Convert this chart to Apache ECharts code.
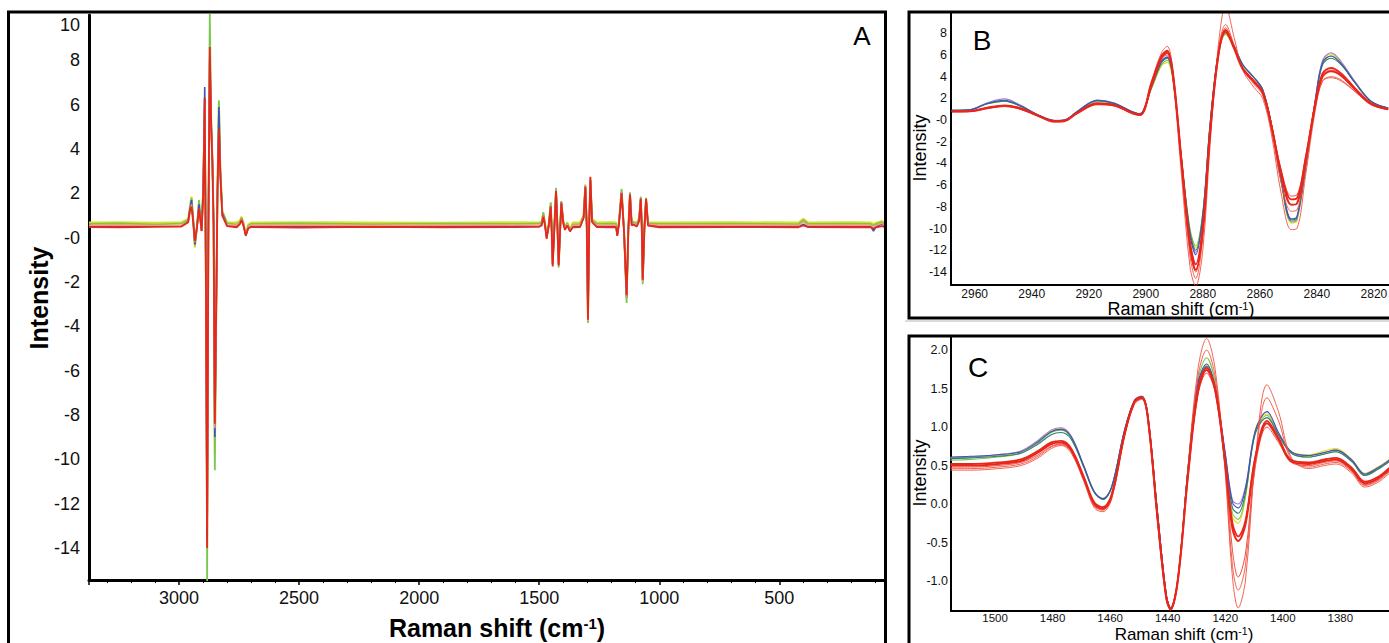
<!DOCTYPE html>
<html><head><meta charset="utf-8">
<script src="https://cdn.jsdelivr.net/npm/echarts@6/dist/echarts.min.js"></script>
<style>html,body{margin:0;padding:0;background:#fff}#c{width:1389px;height:643px}</style>
</head><body><div id="c"></div>
<script>
// ---------- Panel A: full spectrum (Raman shift, cm-1) ----------
const xA = [
3375, 3250, 3100, 2990, 2962, 2955, 2948, 2941, 2934, 2925,
2917, 2911, 2906, 2899, 2893, 2888, 2883, 2878, 2872, 2866,
2861, 2856, 2851, 2845, 2840, 2834, 2828, 2820, 2800, 2760,
2746, 2740, 2732, 2722, 2712, 2700, 2500, 2200, 1900, 1600,
1500, 1490, 1483, 1476, 1469, 1460, 1452, 1448, 1444, 1437,
1430, 1424, 1419, 1413, 1408, 1400, 1393, 1383, 1372, 1360,
1330, 1315, 1308, 1302, 1297, 1292, 1287, 1280, 1260, 1200,
1180, 1175, 1168, 1157, 1147, 1136, 1129, 1122, 1115, 1108,
1094, 1084, 1077, 1073, 1069, 1062, 1055, 1047, 1000, 700,
420, 400, 380, 200, 120, 108, 96, 73, 60];
const aYellow = [
0.68, 0.70, 0.67, 0.70, 0.85, 1.40, 1.85, 0.80, -0.45, 0.55,
1.60, 0.85, 0.35, 2.20, 5.80, -2.20, -12.5, 0.10, 8.00, 5.00,
3.50, 0.60, -9.80, -3.00, 2.10, 6.10, 3.00, 1.20, 0.70, 0.68,
0.78, 0.95, 0.70, 0.15, 0.60, 0.68, 0.70, 0.69, 0.67, 0.70,
0.69, 0.72, 1.10, 0.70, 0.10, 0.68, 1.55, 0.40, -1.15, 0.55,
2.15, 0.55, -1.20, 0.40, 1.60, 0.78, 0.50, 0.70, 0.40, 0.68,
0.70, 1.00, 2.35, 0.60, -3.60, 0.60, 2.60, 0.85, 0.68, 0.70,
0.68, 0.20, 0.75, 2.10, 0.40, -2.70, 0.40, 2.00, 0.70, 0.72,
0.68, 0.90, 1.80, 0.60, -1.95, 0.50, 1.75, 0.70, 0.68, 0.70,
0.68, 0.85, 0.68, 0.70, 0.69, 0.62, 0.68, 0.75, 0.68];
const aGreen = [
0.62, 0.64, 0.60, 0.63, 0.80, 1.30, 1.80, 0.85, -0.35, 0.55,
1.70, 0.85, 0.35, 2.30, 6.30, -2.50, -15.5, 0.20, 10.1, 5.20,
3.60, 0.60, -10.5, -3.20, 2.20, 6.20, 3.10, 1.20, 0.65, 0.60,
0.72, 0.90, 0.66, 0.12, 0.55, 0.62, 0.64, 0.61, 0.63, 0.62,
0.63, 0.68, 1.15, 0.65, 0.05, 0.65, 1.60, 0.35, -1.20, 0.50,
2.25, 0.50, -1.35, 0.35, 1.65, 0.75, 0.45, 0.65, 0.35, 0.60,
0.62, 1.00, 2.40, 0.55, -3.85, 0.55, 2.60, 0.80, 0.62, 0.63,
0.62, 0.15, 0.70, 2.20, 0.35, -2.95, 0.35, 2.05, 0.65, 0.70,
0.62, 0.85, 1.85, 0.55, -2.10, 0.45, 1.80, 0.65, 0.62, 0.63,
0.61, 0.80, 0.62, 0.63, 0.62, 0.55, 0.62, 0.70, 0.62];
const aBlue = [
0.52, 0.50, 0.53, 0.52, 0.72, 1.25, 1.70, 0.75, -0.30, 0.50,
1.50, 0.80, 0.30, 2.40, 6.80, -2.00, -13.6, 0.10, 8.20, 5.00,
3.40, 0.50, -9.00, -3.00, 2.00, 5.90, 3.00, 1.10, 0.55, 0.50,
0.65, 0.85, 0.58, 0.08, 0.45, 0.52, 0.50, 0.53, 0.51, 0.52,
0.53, 0.58, 1.00, 0.58, 0.00, 0.58, 1.45, 0.32, -1.20, 0.45,
2.15, 0.45, -1.20, 0.32, 1.60, 0.70, 0.40, 0.58, 0.30, 0.52,
0.50, 0.90, 2.30, 0.50, -3.60, 0.50, 2.60, 0.75, 0.52, 0.50,
0.52, 0.10, 0.62, 2.05, 0.32, -2.70, 0.32, 2.00, 0.60, 0.62,
0.52, 0.78, 1.78, 0.50, -1.95, 0.42, 1.72, 0.58, 0.52, 0.50,
0.52, 0.60, 0.52, 0.50, 0.52, 0.30, 0.52, 0.62, 0.52];
const aSalmon = [
0.56, 0.57, 0.55, 0.56, 0.70, 1.10, 1.50, 0.70, -0.20, 0.50,
1.30, 0.80, 0.30, 2.00, 6.00, -2.00, -13.0, 0.00, 8.40, 5.00,
3.30, 0.50, -8.60, -3.00, 2.00, 4.80, 2.80, 1.00, 0.57, 0.56,
0.68, 0.85, 0.60, 0.12, 0.50, 0.56, 0.57, 0.55, 0.56, 0.57,
0.56, 0.60, 1.00, 0.60, 0.02, 0.60, 1.45, 0.33, -1.25, 0.45,
2.15, 0.45, -1.25, 0.33, 1.58, 0.70, 0.42, 0.60, 0.32, 0.56,
0.56, 0.95, 2.35, 0.52, -3.75, 0.52, 2.70, 0.75, 0.56, 0.57,
0.56, 0.12, 0.65, 2.05, 0.33, -2.70, 0.33, 2.00, 0.60, 0.65,
0.56, 0.80, 1.78, 0.52, -2.00, 0.42, 1.75, 0.60, 0.56, 0.57,
0.56, 0.70, 0.56, 0.57, 0.56, 0.45, 0.56, 0.65, 0.56];
const aRed = [
0.48, 0.47, 0.49, 0.50, 0.70, 1.20, 1.40, 0.70, -0.15, 0.50,
1.30, 0.80, 0.30, 2.00, 6.30, -2.00, -14.0, 0.00, 8.60, 5.00,
3.30, 0.50, -8.40, -3.00, 2.00, 4.90, 2.80, 1.00, 0.52, 0.47,
0.62, 0.80, 0.55, 0.10, 0.42, 0.48, 0.46, 0.49, 0.47, 0.48,
0.49, 0.55, 0.95, 0.55, -0.05, 0.55, 1.40, 0.30, -1.30, 0.40,
2.10, 0.40, -1.25, 0.30, 1.55, 0.65, 0.35, 0.55, 0.28, 0.47,
0.48, 0.90, 2.30, 0.50, -3.70, 0.50, 2.75, 0.70, 0.48, 0.47,
0.48, 0.08, 0.60, 2.00, 0.30, -2.60, 0.30, 1.95, 0.55, 0.60,
0.50, 0.75, 1.75, 0.50, -1.90, 0.40, 1.75, 0.55, 0.47, 0.48,
0.47, 0.55, 0.48, 0.47, 0.48, 0.40, 0.47, 0.52, 0.47];

// ---------- Panel B: C-H stretching region ----------
const xB = [
2968, 2961.5, 2955.5, 2949.5, 2944, 2938, 2932, 2928.5, 2924, 2917,
2911, 2905, 2902, 2898, 2894.5, 2892.5, 2890.5, 2887.5, 2884.5, 2882.5,
2880, 2877.5, 2874.5, 2872, 2869, 2866, 2862, 2859, 2856, 2852.5,
2849, 2847, 2844, 2840.5, 2838, 2835, 2831.5, 2826.5, 2821, 2815];
const bBlue = [
0.89, 0.95, 1.55, 1.82, 1.32, 0.50, -0.05, 0.00, 0.80, 1.82,
1.55, 0.80, 0.58, 3.10, 5.40, 5.80, 4.00, -3.60, -10.6, -12.4,
-8.90, -0.60, 6.40, 8.20, 6.80, 5.10, 3.90, 2.80, -0.30, -5.50,
-9.10, -8.90, -4.30, 1.90, 5.30, 5.90, 5.20, 3.40, 1.72, 1.10];
const bTeal = [
0.89, 0.95, 1.50, 1.75, 1.30, 0.50, -0.05, 0.00, 0.78, 1.78,
1.52, 0.80, 0.58, 3.00, 5.30, 5.70, 3.90, -3.50, -10.3, -12.0,
-8.70, -0.60, 6.30, 8.10, 6.80, 5.10, 3.90, 2.80, -0.30, -5.60,
-9.20, -9.00, -4.40, 1.80, 5.10, 5.70, 5.10, 3.40, 1.72, 1.10];
const bGreen = [
0.88, 0.95, 1.50, 1.75, 1.28, 0.45, -0.10, -0.05, 0.75, 1.75,
1.50, 0.78, 0.56, 2.90, 5.10, 5.50, 3.80, -3.40, -10.0, -11.6,
-8.50, -0.50, 6.20, 7.90, 6.70, 5.10, 3.90, 2.80, -0.30, -5.70,
-9.40, -9.20, -4.50, 1.80, 5.20, 5.90, 5.20, 3.40, 1.72, 1.10];
const bYellow = [
0.88, 0.95, 1.52, 1.78, 1.30, 0.48, -0.08, -0.02, 0.78, 1.80,
1.52, 0.80, 0.56, 2.90, 5.00, 5.30, 3.70, -3.50, -10.2, -11.8,
-8.60, -0.50, 6.30, 8.00, 6.80, 5.10, 3.90, 2.80, -0.30, -5.80,
-9.50, -9.30, -4.50, 1.90, 5.40, 6.10, 5.30, 3.50, 1.75, 1.10];
const bPurple = [
0.90, 0.97, 1.60, 1.95, 1.38, 0.52, -0.02, 0.02, 0.82, 1.85,
1.58, 0.82, 0.60, 3.10, 5.40, 5.80, 4.00, -3.60, -10.5, -12.2,
-8.80, -0.60, 6.40, 8.30, 6.90, 5.10, 3.90, 2.80, -0.30, -5.60,
-9.30, -9.10, -4.40, 2.00, 5.50, 6.20, 5.40, 3.50, 1.75, 1.10];
const bRed1 = [
0.80, 0.82, 1.10, 1.30, 1.05, 0.42, -0.12, -0.08, 0.65, 1.50,
1.35, 0.68, 0.48, 3.40, 5.90, 6.40, 4.40, -3.80, -11.6, -13.8,
-10.2, -1.40, 6.10, 8.30, 6.60, 4.70, 3.50, 2.50, -0.50, -5.00,
-7.80, -7.70, -3.90, 1.50, 4.00, 4.50, 4.10, 2.80, 1.50, 1.00];
const bRed2 = [
0.80, 0.83, 1.15, 1.35, 1.10, 0.45, -0.10, -0.05, 0.70, 1.55,
1.40, 0.70, 0.50, 3.20, 5.70, 6.20, 4.20, -3.60, -11.2, -13.3,
-9.80, -1.20, 6.00, 8.10, 6.60, 4.80, 3.60, 2.60, -0.40, -4.80,
-7.30, -7.20, -3.60, 1.60, 4.30, 4.80, 4.30, 2.90, 1.55, 1.00];
const bRed3 = [
0.78, 0.80, 1.05, 1.25, 1.00, 0.38, -0.20, -0.15, 0.60, 1.40,
1.30, 0.60, 0.42, 3.00, 5.60, 6.00, 3.80, -5.00, -13.5, -15.3,
-12.0, -2.50, 7.00, 10.5, 7.60, 4.60, 3.00, 2.00, -1.20, -6.80,
-10.1, -10.0, -5.20, 1.00, 3.60, 4.00, 3.70, 2.60, 1.40, 0.95];
const bRed4 = [
0.80, 0.82, 1.10, 1.28, 1.02, 0.40, -0.15, -0.10, 0.62, 1.45,
1.32, 0.65, 0.45, 3.60, 6.20, 6.80, 4.60, -4.20, -12.5, -14.6,
-10.8, -1.80, 6.50, 8.80, 6.90, 4.70, 3.30, 2.30, -0.80, -5.80,
-8.40, -8.30, -4.30, 1.20, 3.60, 3.90, 3.60, 2.60, 1.45, 0.98];
const bRed5 = [
0.82, 0.84, 1.12, 1.32, 1.06, 0.44, -0.12, -0.06, 0.66, 1.50,
1.36, 0.70, 0.50, 3.30, 5.80, 6.30, 4.30, -3.90, -11.8, -14.0,
-10.4, -1.60, 6.20, 8.50, 6.70, 4.80, 3.50, 2.50, -0.30, -4.60,
-7.00, -6.90, -3.40, 1.70, 4.20, 4.60, 4.20, 2.90, 1.55, 1.00];

// ---------- Panel C: CH2 bending region ----------
const xC = [
1515.5, 1508.5, 1499, 1491, 1485, 1480.5, 1477, 1473.5, 1469, 1465.5,
1462.5, 1459.5, 1455, 1451.5, 1449, 1447, 1443.5, 1440.5, 1439, 1436.5,
1433, 1429.5, 1426.5, 1423.5, 1420, 1417.5, 1415.5, 1413, 1409.5, 1405.5,
1401.5, 1397, 1391, 1385.5, 1381.5, 1376, 1371.5, 1367, 1363];
const cBlue = [
0.61, 0.62, 0.64, 0.68, 0.81, 0.94, 0.97, 0.87, 0.48, 0.16,
0.07, 0.22, 0.96, 1.35, 1.40, 1.18, -0.12, -1.18, -1.35, -0.99,
0.44, 1.57, 1.82, 1.52, 0.66, 0.02, -0.05, 0.20, 0.96, 1.20,
0.93, 0.68, 0.63, 0.67, 0.70, 0.57, 0.39, 0.47, 0.57];
const cTeal = [
0.59, 0.60, 0.62, 0.66, 0.78, 0.90, 0.93, 0.84, 0.46, 0.15,
0.06, 0.21, 0.95, 1.34, 1.39, 1.17, -0.13, -1.18, -1.35, -0.99,
0.43, 1.55, 1.79, 1.50, 0.62, -0.05, -0.12, 0.14, 0.92, 1.12,
0.90, 0.66, 0.61, 0.65, 0.68, 0.55, 0.37, 0.45, 0.55];
const cGreen = [
0.57, 0.58, 0.61, 0.66, 0.80, 0.93, 0.96, 0.86, 0.47, 0.15,
0.06, 0.22, 0.96, 1.35, 1.40, 1.18, -0.12, -1.18, -1.35, -0.99,
0.45, 1.60, 1.90, 1.58, 0.60, -0.12, -0.20, 0.10, 0.95, 1.15,
0.90, 0.66, 0.61, 0.65, 0.68, 0.55, 0.37, 0.45, 0.55];
const cYellow = [
0.60, 0.61, 0.63, 0.68, 0.82, 0.95, 0.98, 0.88, 0.48, 0.16,
0.07, 0.22, 0.95, 1.34, 1.39, 1.17, -0.12, -1.18, -1.35, -0.99,
0.44, 1.56, 1.80, 1.52, 0.58, -0.17, -0.25, 0.08, 0.98, 1.17,
0.92, 0.68, 0.64, 0.69, 0.72, 0.58, 0.40, 0.48, 0.58];
const cPurple = [
0.60, 0.61, 0.64, 0.69, 0.83, 0.96, 0.99, 0.88, 0.48, 0.16,
0.07, 0.22, 0.95, 1.34, 1.38, 1.17, -0.12, -1.18, -1.35, -0.99,
0.43, 1.55, 1.78, 1.50, 0.66, 0.05, 0.00, 0.22, 0.95, 1.12,
0.90, 0.67, 0.63, 0.67, 0.70, 0.57, 0.38, 0.46, 0.56];
const cRed1 = [
0.50, 0.50, 0.52, 0.56, 0.67, 0.78, 0.80, 0.70, 0.32, 0.00,
-0.06, 0.10, 0.90, 1.33, 1.38, 1.15, -0.20, -1.22, -1.37, -1.00,
0.35, 1.45, 1.74, 1.48, 0.52, -0.32, -0.48, -0.27, 0.60, 1.05,
0.84, 0.55, 0.52, 0.56, 0.58, 0.45, 0.27, 0.33, 0.45];
const cRed2 = [
0.52, 0.52, 0.54, 0.58, 0.69, 0.80, 0.82, 0.72, 0.34, 0.02,
-0.04, 0.12, 0.92, 1.34, 1.39, 1.16, -0.18, -1.20, -1.36, -0.99,
0.37, 1.48, 1.77, 1.50, 0.55, -0.25, -0.42, -0.22, 0.62, 1.08,
0.86, 0.57, 0.54, 0.58, 0.60, 0.47, 0.29, 0.35, 0.47];
const cRed3 = [
0.44, 0.44, 0.46, 0.50, 0.60, 0.72, 0.76, 0.66, 0.28, -0.05,
-0.10, 0.06, 0.88, 1.30, 1.36, 1.12, -0.25, -1.25, -1.38, -0.98,
0.45, 1.75, 2.15, 1.75, 0.40, -0.95, -1.35, -1.00, 0.60, 1.55,
1.20, 0.60, 0.46, 0.50, 0.52, 0.40, 0.22, 0.28, 0.40];
const cRed4 = [
0.46, 0.46, 0.48, 0.52, 0.62, 0.74, 0.77, 0.68, 0.30, -0.03,
-0.08, 0.08, 0.89, 1.31, 1.37, 1.13, -0.22, -1.23, -1.37, -0.99,
0.42, 1.65, 2.00, 1.65, 0.45, -0.80, -1.12, -0.80, 0.58, 1.38,
1.08, 0.58, 0.48, 0.52, 0.54, 0.42, 0.24, 0.30, 0.42];
const cRed5 = [
0.48, 0.48, 0.50, 0.54, 0.64, 0.75, 0.78, 0.69, 0.31, -0.02,
-0.07, 0.09, 0.90, 1.32, 1.37, 1.14, -0.21, -1.22, -1.37, -1.00,
0.36, 1.42, 1.70, 1.45, 0.47, -0.60, -0.95, -0.65, 0.50, 1.00,
0.80, 0.54, 0.50, 0.54, 0.56, 0.43, 0.25, 0.31, 0.43];

// ---------- build ----------
const FONT = 'Liberation Sans, Arial, Helvetica, sans-serif';
const C_RED = '#e8261c', C_RED_THIN = '#f0503f', C_GREEN = '#78c850', C_YELLOW = '#e6dc1e',
      C_BLUE = '#3f52b8', C_TEAL = '#2d7f6e', C_PURPLE = '#a47bc8', C_SALMON = '#f39a80';

function pairs(xs, ys) { return xs.map((x, i) => [x, ys[i]]); }
function line(xs, ys, color, width, gi, smooth) {
  return {
    type: 'line', xAxisIndex: gi, yAxisIndex: gi, data: pairs(xs, ys),
    showSymbol: false, symbol: 'none', smooth: smooth, silent: true, animation: false,
    lineStyle: { color: color, width: width }, itemStyle: { color: color }, clip: true
  };
}

const series = [
  line(xA, aYellow, C_YELLOW, 2.0, 0, false),
  line(xA, aGreen, C_GREEN, 1.8, 0, false),
  line(xA, aBlue, C_BLUE, 1.6, 0, false),
  line(xA, aSalmon, C_SALMON, 1.5, 0, false),
  line(xA, aRed, C_RED, 1.8, 0, false),

  line(xB, bYellow, C_YELLOW, 1.1, 1, 0.35),
  line(xB, bGreen, C_GREEN, 1.1, 1, 0.35),
  line(xB, bPurple, C_PURPLE, 1.1, 1, 0.35),
  line(xB, bTeal, C_TEAL, 1.1, 1, 0.35),
  line(xB, bBlue, C_BLUE, 1.1, 1, 0.35),
  line(xB, bRed3, C_RED_THIN, 0.9, 1, 0.35),
  line(xB, bRed4, C_RED_THIN, 0.9, 1, 0.35),
  line(xB, bRed5, C_RED_THIN, 1.0, 1, 0.35),
  line(xB, bRed2, C_RED, 1.8, 1, 0.35),
  line(xB, bRed1, C_RED, 2.0, 1, 0.35),

  line(xC, cYellow, C_YELLOW, 1.1, 2, 0.35),
  line(xC, cGreen, C_GREEN, 1.1, 2, 0.35),
  line(xC, cPurple, C_PURPLE, 1.1, 2, 0.35),
  line(xC, cTeal, C_TEAL, 1.1, 2, 0.35),
  line(xC, cBlue, C_BLUE, 1.1, 2, 0.35),
  line(xC, cRed3, C_RED_THIN, 0.9, 2, 0.35),
  line(xC, cRed4, C_RED_THIN, 0.9, 2, 0.35),
  line(xC, cRed5, C_RED_THIN, 1.0, 2, 0.35),
  line(xC, cRed2, C_RED, 1.8, 2, 0.35),
  line(xC, cRed1, C_RED, 2.0, 2, 0.35)
];

function xAxisDef(gi, min, max, split, fs, margin, lw, ticks) {
  return {
    gridIndex: gi, type: 'value', inverse: true, min: min, max: max, splitNumber: split,
    axisLine: { show: true, onZero: false, lineStyle: { color: '#000', width: lw } },
    axisTick: { show: ticks, length: 5, lineStyle: { color: '#000', width: 1.5 } },
    minorTick: { show: ticks, splitNumber: 5, length: 3, lineStyle: { color: '#000', width: 1 } },
    axisLabel: { color: '#111', fontSize: fs, fontFamily: FONT, margin: margin, showMinLabel: false, showMaxLabel: false,
      formatter: v => String(v) },
    splitLine: { show: false }, minorSplitLine: { show: false }
  };
}
function yAxisDef(gi, min, max, split, fs, margin, lw, fmt, rich) {
  return {
    gridIndex: gi, type: 'value', min: min, max: max, splitNumber: split,
    axisLine: { show: true, onZero: false, lineStyle: { color: '#000', width: lw } },
    axisTick: { show: false },
    axisLabel: { color: '#111', fontSize: fs, fontFamily: FONT, margin: margin, showMinLabel: false, showMaxLabel: false, formatter: fmt, rich: rich },
    splitLine: { show: false }
  };
}
const zeroDash = v => (v === 0 ? '-0' : String(v));

function txt(x, y, text, size, opts) {
  opts = opts || {};
  return {
    type: 'text', x: x, y: y, rotation: opts.rot || 0, z: 100, silent: true,
    style: {
      text: text, fontSize: size, fontWeight: opts.bold ? 'bold' : 'normal', fontFamily: FONT,
      fill: '#000', align: 'center', verticalAlign: 'middle', rich: opts.rich
    }
  };
}
function border(x, y, w, h) {
  return { type: 'rect', z: 90, silent: true, shape: { x: x, y: y, width: w, height: h },
    style: { fill: 'none', stroke: '#000', lineWidth: 3 } };
}

const option = {
  backgroundColor: '#fff',
  textStyle: { fontFamily: FONT },
  animation: false,
  grid: [
    { left: 89, top: 15, width: 796, height: 565, containLabel: false, outerBoundsMode: 'none' },
    { left: 951, top: 12, width: 438, height: 273, containLabel: false, outerBoundsMode: 'none' },
    { left: 951, top: 337, width: 438, height: 274, containLabel: false, outerBoundsMode: 'none' }
  ],
  xAxis: [
    xAxisDef(0, 60, 3375, 7, 18, 9, 3, true),
    xAxisDef(1, 2814.7, 2968.3, 8, 12, 3, 2, false),
    xAxisDef(2, 1363.1, 1515.3, 8, 11.5, 1, 2, false)
  ],
  yAxis: [
    yAxisDef(0, -15.45, 10.05, 12, 18, 9, 3,
      v => (v === 10 ? '{t|10}' : zeroDash(v)),
      { t: { fontSize: 18, color: '#111', fontFamily: FONT, padding: [18, 0, 0, 0] } }),
    yAxisDef(1, -15.2, 9.96, 12, 12.5, 4, 2, zeroDash),
    yAxisDef(2, -1.39, 2.17, 7, 12.5, 3, 2, v => v.toFixed(1))
  ],
  series: series,
  graphic: [
    border(8.5, 12, 877, 700),
    border(909, 12, 600, 306),
    border(909, 336, 600, 400),
    { type: 'line', z: 80, silent: true, shape: { x1: 905, y1: 321, x2: 1389, y2: 321 }, style: { stroke: '#cfcfcf', lineWidth: 1.5 } },
    txt(862, 36, 'A', 26),
    txt(982, 40, 'B', 28),
    txt(978, 367, 'C', 28),
    txt(497, 628, 'Raman shift (cm{sup|-1})', 25, { bold: true,
      rich: { sup: { fontSize: 15, fontWeight: 'bold', fontFamily: FONT, verticalAlign: 'top', lineHeight: 12 } } }),
    txt(39, 298, 'Intensity', 25, { bold: true, rot: Math.PI / 2 }),
    txt(1181, 309, 'Raman shift (cm{sup|-1})', 18, {
      rich: { sup: { fontSize: 11, fontFamily: FONT, verticalAlign: 'top', lineHeight: 9 } } }),
    txt(1184, 634, 'Raman shift (cm{sup|-1})', 17, {
      rich: { sup: { fontSize: 10.5, fontFamily: FONT, verticalAlign: 'top', lineHeight: 9 } } }),
    txt(920, 148, 'Intensity', 18, { rot: Math.PI / 2 }),
    txt(920, 473, 'Intensity', 18, { rot: Math.PI / 2 })
  ]
};

const chart = echarts.init(document.getElementById('c'), null, { renderer: 'svg', width: 1389, height: 643 });
chart.setOption(option);
</script>
</body></html>
